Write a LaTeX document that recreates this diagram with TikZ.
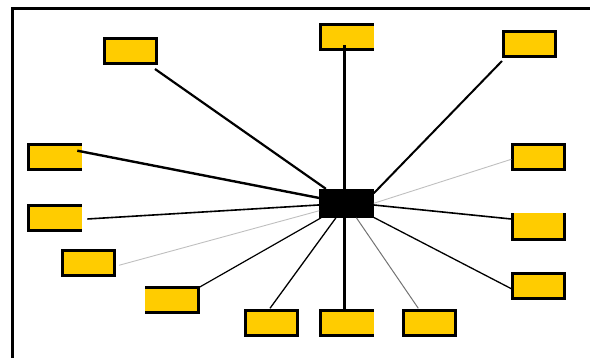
\documentclass[tikz,border=0pt]{standalone}
\usetikzlibrary{positioning}
\definecolor{boxyellow}{HTML}{FFCC00}

\begin{document}
\begin{tikzpicture}[x=1pt, y=-1pt,
  leaf/.style={rectangle, fill=boxyellow, draw=black, line width=3pt,
    minimum width=52pt, minimum height=25pt, inner sep=0pt, outer sep=0pt},
  core/.style={rectangle, fill=black, minimum width=54.5pt,
    minimum height=29pt, inner sep=0pt, outer sep=0pt},
  gap/.style={draw=boxyellow, line width=3pt},
  heavy/.style={line width=2.4pt},
  medium/.style={line width=1.4pt},
  faint/.style={line width=0.9pt, black!25}]
\useasboundingbox (0,0) rectangle (590,358);
\draw[line width=3pt] (12.5,362) -- (12.5,8.2) -- (594,8.2);

\node[core] (0) at (346.5,203.3) {};
\node[leaf] (1) at (346.7,37.5) {};
\node[leaf] (2) at (529.5,44.3) {};
\node[leaf] (3) at (538.7,157.5) {};
\node[leaf] (4) at (538.7,226.7) {};
\node[leaf] (5) at (538.7,286.3) {};
\node[leaf] (6) at (429.3,323.3) {};
\node[leaf] (7) at (346.7,323.3) {};
\node[leaf] (8) at (271.3,323.3) {};
\node[leaf] (9) at (172.2,300.3) {};
\node[leaf] (10) at (88.5,263.5) {};
\node[leaf] (11) at (54.5,218.3) {};
\node[leaf] (12) at (54.5,157.5) {};
\node[leaf] (13) at (130.3,51.5) {};

% open sides
\draw[gap] ([shift={(0,1.5)}]1.north east) -- ([shift={(0,-1.5)}]1.south east);
\draw[gap] ([shift={(1.5,0)}]4.north west) -- ([shift={(-1.5,0)}]4.north east);
\draw[gap] ([shift={(0,1.5)}]7.north east) -- ([shift={(0,-1.5)}]7.south east);
\draw[gap] ([shift={(0,1.5)}]9.north west) -- ([shift={(0,-1.5)}]9.south west);
\draw[gap] ([shift={(0,1.5)}]11.north east) -- ([shift={(0,-1.5)}]11.south east);
\draw[gap] ([shift={(0,1.5)}]12.north east) -- ([shift={(0,-1.5)}]12.south east);

\path ([shift={(-2.2,0)}]0.north) edge[heavy, line width=2.6pt] ([shift={(-2.4,7.5)}]1.center)
      ([shift={(0,-10)}]0.east) edge[heavy, line width=2pt] ([shift={(-1.5,4.2)}]2.south west)
      (0.east) edge[faint]              ([shift={(-1.4,1.8)}]3.west)
      ([shift={(0,1.7)}]0.east) edge[medium, line width=1.6pt] ([shift={(-1.4,-7.7)}]4.west)
      (0) edge[medium, line width=1.3pt] ([shift={(-1.4,2.4)}]5.west)
      (0) edge[line width=1pt, black!55] ([shift={(-11,-2.5)}]6.north)
      ([shift={(-2.2,0)}]0.south) edge[heavy, line width=2.8pt] ([shift={(-2.4,-1.5)}]7.north)
      (0) edge[medium, line width=1.3pt] ([shift={(-1.3,-2.5)}]8.north)
      (0) edge[medium, line width=1.2pt] ([shift={(1.1,-0.5)}]9.north east)
      (0) edge[faint]                   ([shift={(4.5,1.8)}]10.east)
      (0) edge[medium, line width=1.6pt] ([shift={(6.8,0.7)}]11.east)
      (0) edge[heavy]                   ([shift={(-3.2,-6.8)}]12.east)
      (0) edge[heavy, line width=2.2pt] ([shift={(-1.3,5)}]13.south east);

\end{tikzpicture}
\end{document}
